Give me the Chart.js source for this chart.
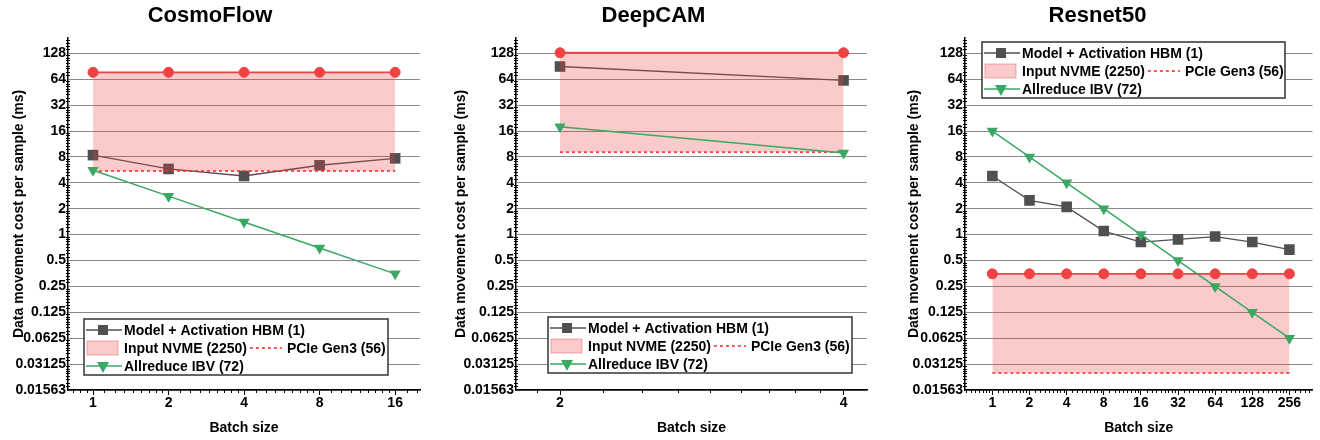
<!DOCTYPE html>
<html>
<head>
<meta charset="utf-8">
<script src="https://cdn.jsdelivr.net/npm/chart.js@4.4.1/dist/chart.umd.min.js"></script>
<style>
  html, body { margin: 0; padding: 0; background: #fff; }
  #wrap { position: relative; width: 1320px; height: 440px; }
  canvas { position: absolute; top: 0; }
</style>
</head>
<body>
<div id="wrap">
  <canvas id="cosmo" width="440" height="440" style="left:0"></canvas>
  <canvas id="deepcam" width="440" height="440" style="left:440px"></canvas>
  <canvas id="resnet" width="440" height="440" style="left:880px"></canvas>
</div>
<script>
// Data movement cost per sample, three workloads

const yTickValues = [0.015625, 0.03125, 0.0625, 0.125, 0.25, 0.5, 1, 2, 4, 8, 16, 32, 64, 128];
const yTickLabels = ["0.01563", "0.03125", "0.0625", "0.125", "0.25", "0.5", "1", "2", "4", "8", "16", "32", "64", "128"];

const legendLabels = ["Model + Activation HBM (1)", "Input NVME (2250)", "PCIe Gen3 (56)", "Allreduce IBV (72)"];

const cosmoBatch = [1, 2, 4, 8, 16];
const cosmoModel = [8.4, 5.8, 4.8, 6.4, 7.7];
const cosmoInput = [77, 77, 77, 77, 77];
const cosmoPcie = [5.5, 5.5, 5.5, 5.5, 5.5];
const cosmoAllreduce = [5.6, 2.8, 1.4, 0.7, 0.35];

const deepcamBatch = [2, 4];
const deepcamModel = [90, 62];
const deepcamInput = [130, 130];
const deepcamPcie = [9.1, 9.1];
const deepcamAllreduce = [18, 8.9];

const resnetBatch = [1, 2, 4, 8, 16, 32, 64, 128, 256];
const resnetModel = [4.8, 2.5, 2.1, 1.1, 0.82, 0.88, 0.95, 0.82, 0.67];
const resnetInput = [0.35, 0.35, 0.35, 0.35, 0.35, 0.35, 0.35, 0.35, 0.35];
const resnetPcie = [0.0247, 0.0247, 0.0247, 0.0247, 0.0247, 0.0247, 0.0247, 0.0247, 0.0247];
const resnetAllreduce = [16, 8, 4, 2, 1, 0.5, 0.25, 0.125, 0.0625];

const FONT = '"Liberation Sans", Arial, sans-serif';
const GRAY = "#505050";
const RED = "#ef4343";
const PINK = "rgba(240, 60, 60, 0.27)";
const GREEN = "#3aa862";

Chart.defaults.font.family = FONT;
Chart.defaults.font.size = 14;
Chart.defaults.font.weight = "bold";
Chart.defaults.color = "#000";

function xy(xs, ys) {
  return xs.map((x, i) => ({ x: x, y: ys[i] }));
}

// 8 linear minor ticks inside each doubling, like the original log2 axes
function minorValues(min, max) {
  const out = [];
  for (let e = Math.floor(Math.log2(min)); e <= Math.ceil(Math.log2(max)); e++) {
    const v = Math.pow(2, e);
    for (let k = 1; k <= 8; k++) {
      const m = v * (1 + k / 9);
      if (m > min && m < max) out.push(m);
    }
  }
  return out;
}

function drawLegend(ctx, box) {
  ctx.save();
  ctx.fillStyle = "#fff";
  ctx.fillRect(box.x, box.y, box.w, box.h);
  ctx.strokeStyle = "#333";
  ctx.lineWidth = 1.5;
  ctx.strokeRect(box.x, box.y, box.w, box.h);

  ctx.font = "bold 14px " + FONT;
  ctx.textBaseline = "middle";
  const sx = box.x + 2, ex = box.x + 38, mid = box.x + 19, tx = box.x + 40;
  const r1 = box.y + 11, r2 = r1 + 18, r3 = r2 + 18;

  // row 1 - model line with square
  ctx.strokeStyle = GRAY;
  ctx.lineWidth = 1.3;
  ctx.beginPath(); ctx.moveTo(sx, r1); ctx.lineTo(ex, r1); ctx.stroke();
  ctx.fillStyle = GRAY;
  ctx.fillRect(mid - 5, r1 - 5, 10, 10);
  ctx.fillStyle = "#000";
  ctx.fillText(legendLabels[0], tx, r1 + 1);

  // row 2 - pink box, then dashed pcie line
  ctx.fillStyle = PINK;
  ctx.fillRect(sx + 1, r2 - 7, 31, 14);
  ctx.strokeStyle = "rgba(220, 80, 80, 0.45)";
  ctx.lineWidth = 1;
  ctx.strokeRect(sx + 1, r2 - 7, 31, 14);
  ctx.fillStyle = "#000";
  ctx.fillText(legendLabels[1], tx, r2 + 1);
  const w1 = ctx.measureText(legendLabels[1]).width;
  ctx.strokeStyle = "#ff2020";
  ctx.lineWidth = 1.5;
  ctx.setLineDash([3, 3]);
  ctx.beginPath(); ctx.moveTo(tx + w1 + 3, r2); ctx.lineTo(tx + w1 + 35, r2); ctx.stroke();
  ctx.setLineDash([]);
  ctx.fillText(legendLabels[2], tx + w1 + 40, r2 + 1);

  // row 3 - allreduce line with down triangle
  ctx.strokeStyle = GREEN;
  ctx.lineWidth = 1.5;
  ctx.beginPath(); ctx.moveTo(sx, r3); ctx.lineTo(ex, r3); ctx.stroke();
  ctx.fillStyle = GREEN;
  ctx.beginPath();
  ctx.moveTo(mid - 6, r3 - 4); ctx.lineTo(mid + 6, r3 - 4); ctx.lineTo(mid, r3 + 7);
  ctx.closePath(); ctx.fill();
  ctx.fillStyle = "#000";
  ctx.fillText(legendLabels[3], tx, r3 + 1);
  ctx.restore();
}

function makeChart(id, p) {
  const extras = {
    id: "extras",
    afterDraw(chart) {
      const ctx = chart.ctx;
      const xs = chart.scales.x, ys = chart.scales.y;
      const area = chart.chartArea;
      ctx.save();
      ctx.strokeStyle = "#000";
      ctx.lineWidth = 1;
      ctx.beginPath();
      minorValues(xs.min, xs.max).forEach((v) => {
        const px = Math.round(xs.getPixelForValue(v)) + 0.5;
        ctx.moveTo(px, area.bottom);
        ctx.lineTo(px, area.bottom + 3);
      });
      minorValues(ys.min, ys.max).forEach((v) => {
        const py = Math.round(ys.getPixelForValue(v)) + 0.5;
        ctx.moveTo(area.left - 2, py);
        ctx.lineTo(area.left + 2, py);
      });
      ctx.stroke();
      ctx.restore();
      drawLegend(ctx, p.legend);
    },
  };

  return new Chart(document.getElementById(id), {
    type: "line",
    data: {
      datasets: [
        {
          label: legendLabels[0],
          data: xy(p.batch, p.model),
          borderColor: GRAY,
          backgroundColor: GRAY,
          borderWidth: 1.3,
          pointStyle: "rect",
          pointRadius: 7.5,
          pointBorderWidth: 0,
          order: 3,
        },
        {
          label: legendLabels[1],
          data: xy(p.batch, p.input),
          borderColor: RED,
          backgroundColor: PINK,
          pointBackgroundColor: RED,
          pointBorderColor: RED,
          borderWidth: 1.8,
          pointStyle: "circle",
          pointRadius: 5,
          pointBorderWidth: 1,
          fill: { target: 2, above: PINK, below: PINK },
          order: 1,
        },
        {
          label: legendLabels[2],
          data: xy(p.batch, p.pcie),
          borderColor: "#ff2020",
          borderWidth: 1.5,
          borderDash: [3, 3],
          pointRadius: 0,
          fill: false,
          order: 2,
        },
        {
          label: legendLabels[3],
          data: xy(p.batch, p.allreduce),
          borderColor: GREEN,
          backgroundColor: GREEN,
          borderWidth: 1.5,
          pointStyle: "triangle",
          pointRotation: 180,
          pointRadius: 6.5,
          pointBorderWidth: 0,
          order: 0,
        },
      ],
    },
    options: {
      responsive: false,
      animation: false,
      events: [],
      devicePixelRatio: 1,
      layout: { padding: { left: 0, right: p.padRight, top: 0, bottom: 0 } },
      plugins: {
        legend: { display: false },
        tooltip: { enabled: false },
        title: {
          display: true,
          text: p.title,
          font: { size: 22, weight: "bold" },
          color: "#000",
          padding: { top: 3, bottom: 8.6 },
        },
      },
      scales: {
        x: {
          type: "logarithmic",
          min: p.xMin,
          max: p.xMax,
          afterBuildTicks: (s) => { s.ticks = p.xTicks.map((v) => ({ value: v })); },
          afterFit: (s) => { s.height = 50; },
          grid: { drawOnChartArea: false, tickLength: 5, color: "#000", lineWidth: 1 },
          border: { display: true, color: "#000", width: 1.5 },
          ticks: { autoSkip: false, maxRotation: 0, padding: 0, callback: (v) => String(v) },
          title: { display: true, text: "Batch size", font: { size: 14, weight: "bold" }, padding: { top: 0, bottom: 3 } },
        },
        y: {
          type: "logarithmic",
          min: 0.015625,
          max: 193,
          afterBuildTicks: (s) => { s.ticks = yTickValues.map((v) => ({ value: v })); },
          afterFit: (s) => { s.width = p.axisLeft; },
          grid: { color: "#8a8a8a", lineWidth: 1, drawTicks: false },
          border: { display: true, color: "#000", width: 1.5 },
          ticks: {
            autoSkip: false,
            padding: 2,
            callback: (v, i) => yTickLabels[i],
          },
          title: {
            display: true,
            text: "Data movement cost per sample (ms)",
            font: { size: 14, weight: "bold" },
            padding: { top: p.yTitlePad, bottom: 0 },
          },
        },
      },
    },
    plugins: [extras],
  });
}

makeChart("cosmo", {
  title: "CosmoFlow",
  batch: cosmoBatch, model: cosmoModel, input: cosmoInput, pcie: cosmoPcie, allreduce: cosmoAllreduce,
  xTicks: cosmoBatch, xMin: 0.795, xMax: 20.1,
  axisLeft: 68, padRight: 20, yTitlePad: 10.6,
  legend: { x: 84, y: 319, w: 304, h: 56 },
});

makeChart("deepcam", {
  title: "DeepCAM",
  batch: deepcamBatch, model: deepcamModel, input: deepcamInput, pcie: deepcamPcie, allreduce: deepcamAllreduce,
  xTicks: deepcamBatch, xMin: 1.796, xMax: 4.236,
  axisLeft: 76, padRight: 13, yTitlePad: 12.6,
  legend: { x: 108, y: 317, w: 304, h: 56 },
});

makeChart("resnet", {
  title: "Resnet50",
  batch: resnetBatch, model: resnetModel, input: resnetInput, pcie: resnetPcie, allreduce: resnetAllreduce,
  xTicks: resnetBatch, xMin: 0.603, xMax: 394,
  axisLeft: 85, padRight: 5, yTitlePad: 25.6,
  legend: { x: 102, y: 42, w: 303, h: 56 },
});
</script>
</body>
</html>
